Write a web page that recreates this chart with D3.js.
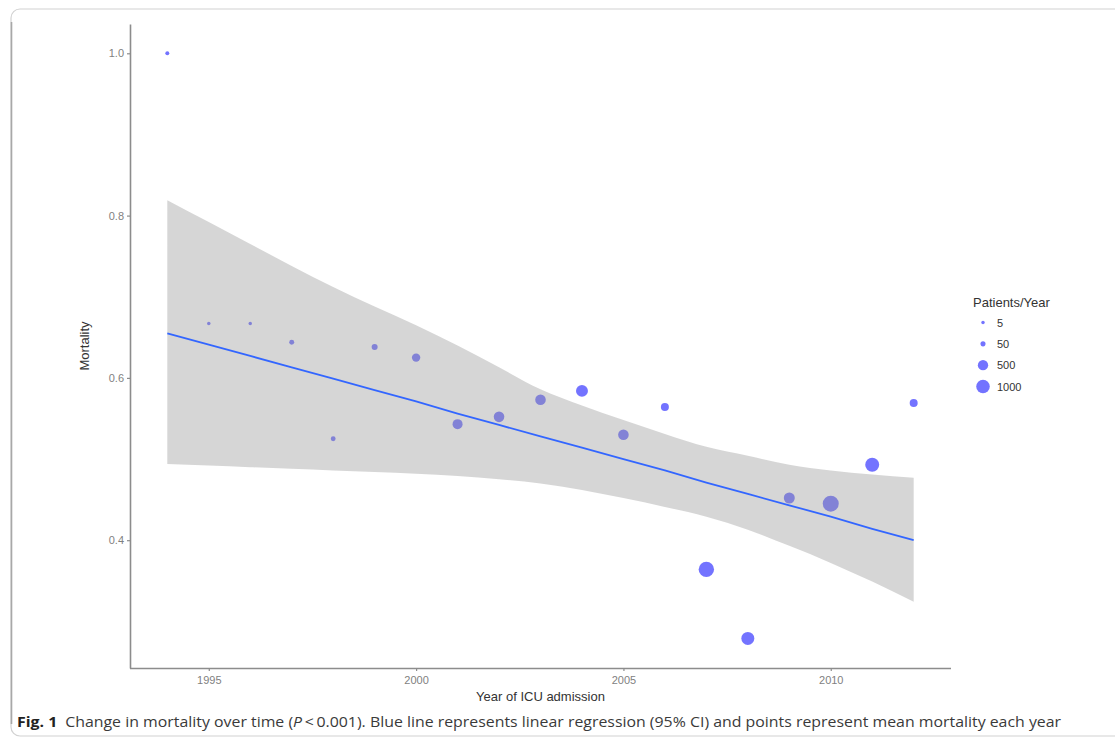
<!DOCTYPE html>
<html>
<head>
<meta charset="utf-8">
<script src="https://cdn.jsdelivr.net/npm/d3@7"></script>
<style>
  html, body { margin: 0; padding: 0; background: #fff; }
  svg { display: block; }
</style>
</head>
<body>
<svg id="chart" width="1115" height="739"></svg>
<script>
// ---- data ----
const years = [1994, 1995, 1996, 1997, 1998, 1999, 2000, 2001, 2002, 2003, 2004, 2005, 2006, 2007, 2008, 2009, 2010, 2011, 2012];
const mortality = [1.000, 0.667, 0.667, 0.644, 0.525, 0.638, 0.625, 0.543, 0.552, 0.573, 0.584, 0.530, 0.564, 0.364, 0.279, 0.452, 0.445, 0.493, 0.569];
const patients = [15, 6, 6, 45, 40, 95, 280, 455, 530, 530, 730, 530, 240, 1370, 900, 585, 1500, 1080, 240];
const fitLine = [0.655, 0.641, 0.627, 0.613, 0.599, 0.585, 0.571, 0.556, 0.542, 0.528, 0.514, 0.500, 0.486, 0.471, 0.457, 0.443, 0.429, 0.414, 0.400];
const ciUpper = [0.819, 0.792, 0.765, 0.738, 0.712, 0.688, 0.665, 0.640, 0.613, 0.586, 0.566, 0.548, 0.531, 0.515, 0.504, 0.493, 0.486, 0.481, 0.477];
const ciLower = [0.494, 0.492, 0.490, 0.488, 0.486, 0.484, 0.482, 0.479, 0.475, 0.470, 0.462, 0.452, 0.441, 0.429, 0.413, 0.393, 0.372, 0.349, 0.324];
const xTicks = [1995, 2000, 2005, 2010];
const yTicks = [0.4, 0.6, 0.8, 1.0];
const legendBreaks = [5, 50, 500, 1000];
const legendTitle = "Patients/Year";
const xTitle = "Year of ICU admission";
const yTitle = "Mortality";

const svg = d3.select("#chart");

// frame of the figure
svg.append("rect")
  .attr("x", 11).attr("y", 9).attr("width", 1120).attr("height", 727)
  .attr("rx", 9).attr("ry", 9)
  .attr("fill", "none").attr("stroke", "#d2d2d2").attr("stroke-width", 1.2);
svg.append("path")
  .attr("d", "M11.5,22 L11.5,724")
  .attr("stroke", "#a8a8a8").attr("stroke-width", 1.6).attr("fill", "none");

// scales
const plot = { left: 130, right: 951, top: 24, bottom: 668 };
const x = d3.scaleLinear().domain([1993.1, 2012.9]).range([plot.left, plot.right]);
const y = d3.scaleLinear().domain([0.2425, 1.0361]).range([plot.bottom, plot.top]);
const r = d3.scalePow().exponent(0.5).domain([1, 1500]).range([1.5, 8.0]);

const data = years.map((yr, i) => ({ year: yr, m: mortality[i], n: patients[i], fit: fitLine[i], lo: ciLower[i], hi: ciUpper[i] }));

// points (drawn first, band overlays them as in ggplot)
svg.append("g").selectAll("circle")
  .data(data).join("circle")
  .attr("cx", d => x(d.year))
  .attr("cy", d => y(d.m))
  .attr("r", d => r(d.n))
  .attr("fill", "#0000ff").attr("fill-opacity", 0.55);

// confidence band
const area = d3.area()
  .x(d => x(d.year))
  .y0(d => y(d.lo))
  .y1(d => y(d.hi))
  .curve(d3.curveMonotoneX);
svg.append("path")
  .datum(data)
  .attr("d", area)
  .attr("fill", "#999999").attr("fill-opacity", 0.4);

// regression line
const line = d3.line().x(d => x(d.year)).y(d => y(d.fit));
svg.append("path")
  .datum(data)
  .attr("d", line)
  .attr("fill", "none").attr("stroke", "#3366FF").attr("stroke-width", 1.8);

// axes
const axisColor = "#8c8c8c";
const xAxis = svg.append("g")
  .attr("transform", `translate(0,${plot.bottom})`)
  .call(d3.axisBottom(x).tickValues(xTicks).tickFormat(d3.format("d")).tickSize(3).tickPadding(5).tickSizeOuter(0));
const yAxis = svg.append("g")
  .attr("transform", `translate(${plot.left},0)`)
  .call(d3.axisLeft(y).tickValues(yTicks).tickFormat(d3.format(".1f")).tickSize(3).tickPadding(3).tickSizeOuter(0));
[xAxis, yAxis].forEach(g => {
  g.select(".domain").attr("stroke", axisColor).attr("stroke-width", 1.6);
  g.selectAll(".tick line").attr("stroke", axisColor).attr("stroke-width", 1.2);
  g.selectAll(".tick text")
    .attr("fill", "#7f7f7f")
    .style("font-family", "'Liberation Sans', Arial, sans-serif")
    .style("font-size", "11px");
});
xAxis.select(".domain").attr("d", `M${plot.left},0.5H${plot.right}`);

// axis titles
svg.append("text")
  .attr("x", (plot.left + plot.right) / 2).attr("y", 701)
  .attr("text-anchor", "middle")
  .attr("fill", "#333")
  .style("font-family", "'Liberation Sans', Arial, sans-serif").style("font-size", "13px")
  .text(xTitle);
svg.append("text")
  .attr("transform", `translate(89,${(plot.top + plot.bottom) / 2}) rotate(-90)`)
  .attr("text-anchor", "middle")
  .attr("fill", "#333")
  .style("font-family", "'Liberation Sans', Arial, sans-serif").style("font-size", "13px")
  .text(yTitle);

// legend
const lg = svg.append("g");
lg.append("text")
  .attr("x", 973).attr("y", 307)
  .attr("fill", "#333")
  .style("font-family", "'Liberation Sans', Arial, sans-serif").style("font-size", "13px")
  .text(legendTitle);
const legendY = d3.scalePoint().domain(legendBreaks).range([322.5, 386.5]);
lg.selectAll("circle")
  .data(legendBreaks).join("circle")
  .attr("cx", 983).attr("cy", d => legendY(d))
  .attr("r", d => r(d))
  .attr("fill", "#0000ff").attr("fill-opacity", 0.55);
lg.selectAll("text.lab")
  .data(legendBreaks).join("text")
  .attr("class", "lab")
  .attr("x", 997).attr("y", d => legendY(d) + 4)
  .attr("fill", "#333")
  .style("font-family", "'Liberation Sans', Arial, sans-serif").style("font-size", "11px")
  .text(d => d);

// caption
const cap = svg.append("text")
  .attr("x", 0).attr("y", 0)
  .attr("fill", "#3a3a3a")
  .style("font-family", "'Open Sans', 'Noto Sans', sans-serif").style("font-size", "15px");
cap.append("tspan").attr("font-weight", "bold").attr("fill", "#222").text("Fig. 1");
cap.append("tspan").text("\u2002Change in mortality over time (");
cap.append("tspan").attr("font-style", "italic").text("P");
cap.append("tspan").text("\u2009<\u20090.001). Blue line represents linear regression (95% CI) and points represent mean mortality each year");
const w = cap.node().getComputedTextLength();
const targetW = 1062 - 17;
cap.attr("transform", `translate(17,727) scale(${targetW / w},1)`);
</script>
</body>
</html>
